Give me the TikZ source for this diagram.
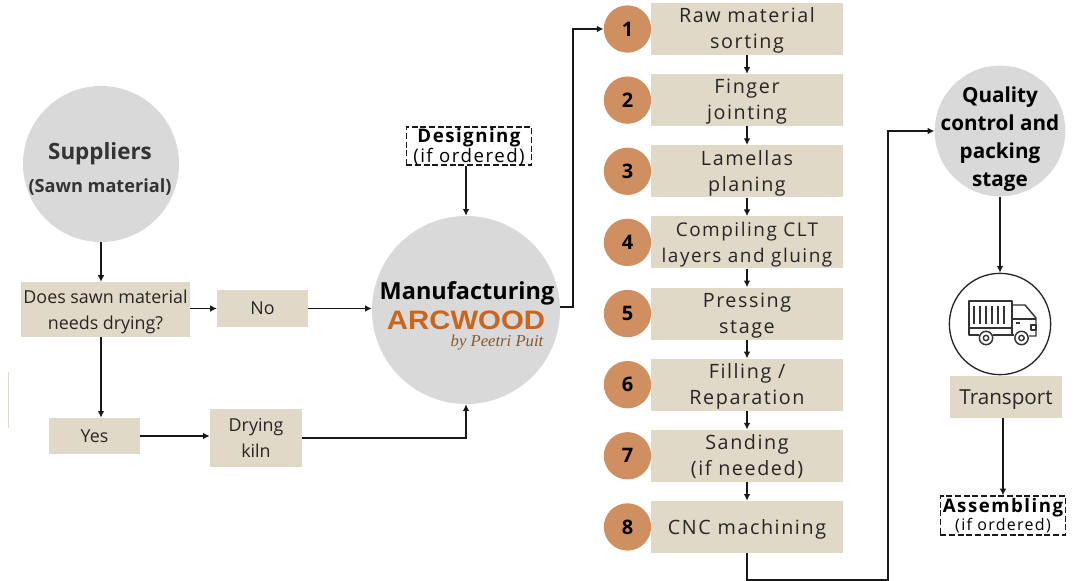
\documentclass[tikz,border=0pt]{standalone}
\usepackage{fontspec}
\setmainfont{Open Sans}
\newfontfamily\spaced[LetterSpace=8]{Open Sans}
\newfontfamily\logofont[FakeStretch=1.1]{Liberation Sans}
\newfontfamily\handfont{Liberation Serif}
\usetikzlibrary{arrows.meta,positioning}
\definecolor{boxtan}{HTML}{E1D9C7}
\definecolor{circgray}{HTML}{D9D9D9}
\definecolor{badge}{HTML}{CF8F60}
\definecolor{inktext}{HTML}{262626}
\definecolor{logoorange}{HTML}{C9661C}

\begin{document}
\begin{tikzpicture}[
  x=0.75pt, y=-0.75pt,
  node distance = 13.95pt and -0.5pt,
  > = {Latex[length=5pt,width=5pt]},
  conn/.style = {->, draw=black!90, line width=1.2pt},
  box/.style = {rectangle, fill=boxtan, inner sep=0pt, align=center,
                font=\fontsize{13.4}{19}\selectfont, text=inktext},
  stepbox/.style = {box, minimum width=144pt, minimum height=39pt,
                text height=34.4pt, text depth=4.6pt,
                font=\fontsize{14.8}{19.5}\selectfont\spaced},
  numb/.style = {circle, fill=badge, inner sep=0pt, minimum size=35.5pt,
                font=\fontsize{15}{15}\selectfont\bfseries, text=black},
  stage/.style = {circle, fill=circgray, inner sep=0pt},
  lab/.style = {inner sep=0pt, align=center, text=black!90},
  opt/.style = {rectangle, draw=black!90, dash pattern=on 4.5pt off 2pt, line width=1.2pt,
                inner sep=0pt, align=center}
]
\useasboundingbox (0,0) rectangle (1077,581);

% left part
\node[stage, minimum size=117pt] (supp) at (101,164) {};
\node[lab, font=\fontsize{16.8}{26}\selectfont\bfseries, text=black!80] (supptxt) at (100,169)
  {Suppliers\\[-1pt]{\fontsize{13.6}{18}\selectfont (Sawn material)}};
\node[box, minimum width=127pt, minimum height=41pt, text height=33.8pt, text depth=4.2pt] (dry) at (105.5,309.5) {Does sawn material\\needs drying?};
\node[box, minimum width=68pt, minimum height=28pt] (no) at (262.5,308.5) {No};
\node[box, minimum width=68pt, minimum height=27pt] (yes) at (94.5,436) {Yes};
\node[box, minimum width=69pt, minimum height=43pt] (kiln) at (256,438) {Drying\\kiln};
\draw[boxtan, line width=0.5pt] (8.5,372) -- (8.5,428);

% manufacturing
\node[stage, minimum size=141pt] (manu) at (466,310) {};
\node[lab, font=\fontsize{17.6}{20}\selectfont\bfseries, text=black] (manutxt) at (467,293) {Manufacturing};
\node[lab, font=\fontsize{20}{20}\selectfont\logofont\bfseries, text=logoorange] (logo) at (466,320) {ARCWOOD};
\node[lab, font=\fontsize{12.5}{13}\selectfont\handfont\itshape, text=brown!70!black] (sign) at (497,343) {by Peetri Puit};
\node[opt, minimum width=94pt, minimum height=28pt, text height=26.25pt, text depth=2.25pt,
      font=\fontsize{14}{15}\selectfont\spaced] (design) at (469,146)
  {\bfseries Designing\\(if ordered)};

% steps
\node[stepbox] (s1) at (747,29) {Raw material\\sorting};
\node[stepbox, below=of s1] (s2) {Finger\\jointing};
\node[stepbox, below=of s2] (s3) {Lamellas\\planing};
\node[stepbox, below=of s3, font=\fontsize{14.2}{19.5}\selectfont\spaced] (s4) {Compiling CLT\\layers and gluing};
\node[stepbox, below=of s4] (s5) {Pressing\\stage};
\node[stepbox, below=of s5] (s6) {Filling /\\Reparation};
\node[stepbox, below=of s6] (s7) {Sanding\\(if needed)};
\node[stepbox, below=of s7, text height=15pt, text depth=4.2pt] (s8) {CNC machining};

\node[numb, left=of s1] (n1) {1};
\node[numb, left=of s2] (n2) {2};
\node[numb, left=of s3] (n3) {3};
\node[numb, left=of s4] (n4) {4};
\node[numb, left=of s5] (n5) {5};
\node[numb, left=of s6] (n6) {6};
\node[numb, left=of s7] (n7) {7};
\node[numb, left=of s8] (n8) {8};

% right part
\node[stage, minimum size=98pt] (qual) at (1000,131) {};
\node[lab, font=\fontsize{15.5}{21}\selectfont\bfseries, text=black] (qualtxt) at (1000,139)
  {Quality\\control and\\packing\\stage};
\node[circle, draw=black!85, line width=1pt, inner sep=0pt, minimum size=76pt] (truck) at (1000,324) {};
\node[box, minimum width=84pt, minimum height=31pt, text depth=0pt, font=\fontsize{15.5}{18}\selectfont] (trans) at (1006,397) {Transport};
\node[opt, minimum width=94pt, minimum height=29pt, font=\fontsize{12}{11}\selectfont\spaced] (assem) at (1003,515.5)
  {{\fontsize{14}{13}\selectfont\bfseries Assembling}\\(if ordered)};
\coordinate (turn) at (888,580);

% truck icon
\begin{scope}[draw=black!80, line width=1.1pt, line join=round]
  \draw (1012,328) -- (969,328) -- (969,301) -- (1012,301) -- (1012,335);
  \draw (969,328) -- (969,335) -- (979,335);
  \draw (993,335) -- (1014,335);
  \draw (1012,305) -- (1025,305) -- (1036,318) -- (1036,336) -- (1029,336);
  \draw (1012,319) -- (1036,319);
  \draw (1031,325) -- (1036,325) -- (1036,330) -- (1031,330) -- cycle;
  \draw (1016,323) -- (1020,323);
  \draw (974,306) -- (974,324) (980,306) -- (980,324) (986,306) -- (986,324)
        (992,306) -- (992,324) (998,306) -- (998,324) (1004,306) -- (1004,324);
  \draw (986,338) circle (5pt) (986,338) circle (2pt);
  \draw (1021.5,338) circle (5pt) (1021.5,338) circle (2pt);
\end{scope}

\draw[conn] (supp) -- (dry.north -| supp);
\draw[conn] (dry.east |- no) -- (no);
\draw[conn] (dry.south -| supp) -- (yes.north -| supp);
\draw[conn] (no) -- (no -| manu.west);
\draw[conn] (yes) -- (yes -| kiln.west);
\draw[conn] (kiln) -| (manu.south);
\draw[conn] (design.south -| manu) -- (manu.north);
\draw[conn] (manu.2) -- ++(13,0) |- (n1);

\draw[conn] (s1) -- (s2);
\draw[conn] (s2) -- (s3);
\draw[conn] (s3) -- (s4);
\draw[conn] (s4) -- (s5);
\draw[conn] (s5) -- (s6);
\draw[conn] (s6) -- (s7);
\draw[conn] (s7) -- (s8);

\draw[conn] (s8.south) |- (turn) |- (qual.west);
\draw[conn] (qual) -- (truck);
\draw[conn] (trans.south -| assem) -- (assem.north);
\end{tikzpicture}
\end{document}
